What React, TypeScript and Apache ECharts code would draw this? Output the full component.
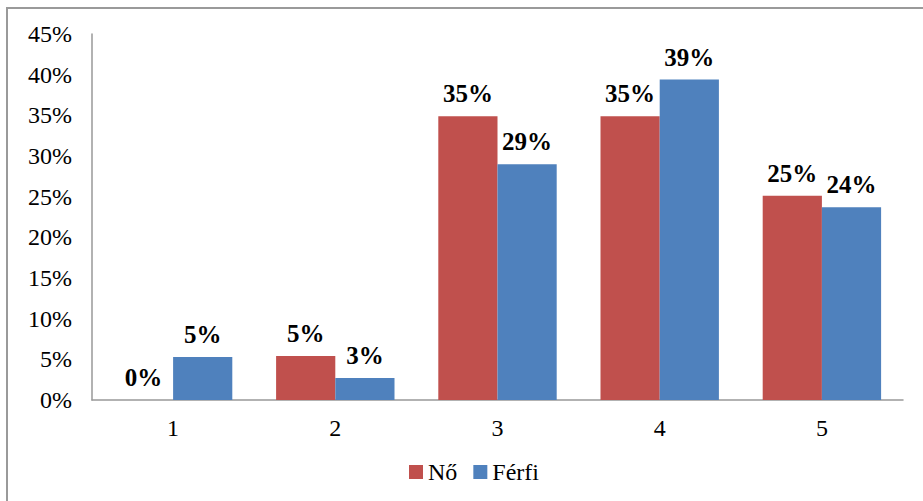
import React, { useEffect, useRef } from "react";
import * as echarts from "echarts";

const categories = ["1", "2", "3", "4", "5"];
const noValues = [0, 5.4, 34.9, 34.9, 25.1];
const ferfiValues = [5.3, 2.7, 29.0, 39.4, 23.7];
const yTicks = [0, 5, 10, 15, 20, 25, 30, 35, 40, 45];

const FONT = '"Liberation Serif", "Times New Roman", serif';

export default function App() {
  const ref = useRef<HTMLDivElement>(null);
  useEffect(() => {
    if (!ref.current) return;
    const chart = echarts.init(ref.current, undefined, { renderer: "svg" });
    const label = {
      show: true,
      position: "top",
      distance: 10,
      fontFamily: FONT,
      fontSize: 25,
      fontWeight: "bold",
      color: "#000",
      formatter: (p: any) => Math.round(p.value) + "%",
    };
    chart.setOption({
      animation: false,
      backgroundColor: "#fff",
      textStyle: { fontFamily: FONT },
      graphic: [
        {
          type: "rect",
          shape: { x: 7, y: 8, width: 1000, height: 1000 },
          style: { fill: "none", stroke: "#9a9a9a", lineWidth: 2 },
          silent: true,
        },
      ],
      grid: { left: 92, right: 20, top: 34, bottom: 101 },
      legend: {
        bottom: 12,
        left: 404,
        itemWidth: 14,
        itemHeight: 14,
        itemGap: 16,
        itemTextGap: 4,
        icon: "rect",
        textStyle: { fontFamily: FONT, fontSize: 24, color: "#000" },
        data: ["Nő", "Férfi"],
      },
      xAxis: {
        type: "category",
        data: categories,
        axisLine: { lineStyle: { color: "#999", width: 1.5 } },
        axisTick: { show: false },
        axisLabel: { fontFamily: FONT, fontSize: 24, color: "#000", margin: 16 },
      },
      yAxis: {
        type: "value",
        min: yTicks[0],
        max: yTicks[yTicks.length - 1],
        interval: 5,
        axisLine: { show: true, lineStyle: { color: "#999", width: 1.5 } },
        axisTick: { show: false },
        splitLine: { show: false },
        axisLabel: {
          fontFamily: FONT,
          fontSize: 24,
          color: "#000",
          margin: 20,
          formatter: (v: number) => v + "%",
        },
      },
      series: [
        {
          name: "Nő",
          type: "bar",
          data: noValues,
          barGap: "0%",
          barCategoryGap: "27%",
          itemStyle: { color: "#C0504D" },
          label,
        },
        {
          name: "Férfi",
          type: "bar",
          data: ferfiValues,
          itemStyle: { color: "#4F81BD" },
          label,
        },
      ],
    });
    return () => chart.dispose();
  }, []);
  return (
    <div
      ref={ref}
      style={{ position: "absolute", left: 0, top: 0, width: 923, height: 501 }}
    />
  );
}
